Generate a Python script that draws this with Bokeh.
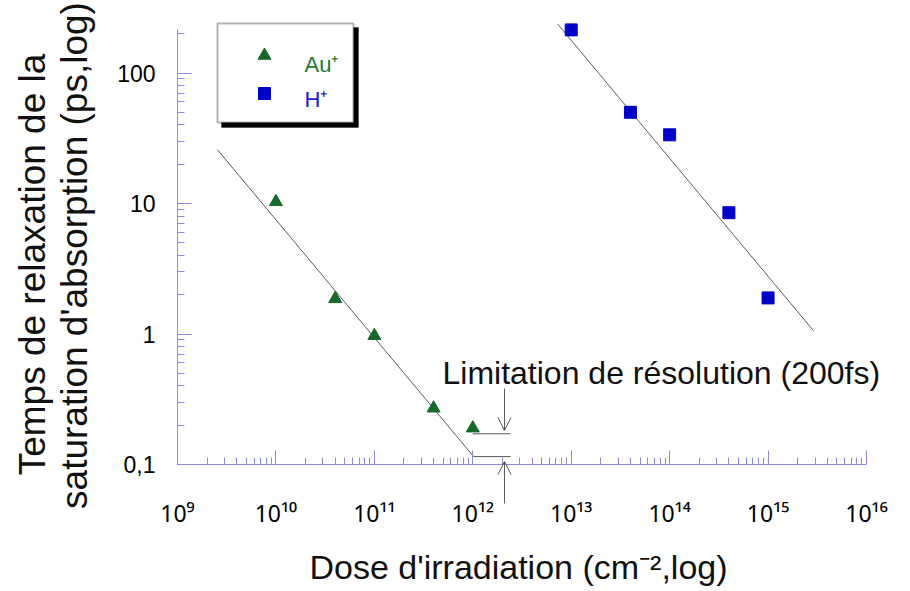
import math
from bokeh.plotting import figure
from bokeh.models import (Range1d, FixedTicker, CustomJSTickFormatter, Label,
                          Arrow, OpenHead, BoxAnnotation)
from bokeh.embed import file_html
from bokeh.resources import INLINE

# ---------------- data ----------------
au_dose = [1e10, 4e10, 1e11, 4e11, 1e12]
au_tau = [10.3, 1.86, 0.97, 0.27, 0.19]
h_dose = [1e13, 4e13, 1e14, 4e14, 1e15]
h_tau = [214, 50, 33.6, 8.5, 1.89]
au_fit_dose = [2.55e9, 1.02e12, 2.42e12]
au_fit_tau = [25.8, 0.115, 0.115]
h_fit_dose = [7.26e12, 2.89e15]
h_fit_tau = [238, 1.06]
limit_dose = [1.0e12, 2.42e12]
limit_tau = [0.172, 0.172]
x_ticks = [1e9, 1e10, 1e11, 1e12, 1e13, 1e14, 1e15, 1e16]
y_ticks = [0.1, 1, 10, 100]
x_minor = [m * 10.0 ** k for k in range(9, 16) for m in range(2, 10)]
y_minor = [m * 10.0 ** k for k in range(-1, 2) for m in range(2, 10)] + [200]

# ---------------- layout constants (pixel -> data helpers) ----------------
W, H = 910, 591
AX_LEFT, AX_RIGHT, AX_BOTTOM = 177, 866, 464     # pixel positions of 1e9, 1e16, 0.1
DEC_X = (AX_RIGHT - AX_LEFT) / 7.0
DEC_Y = 130.5


def xd(px):
    return 10 ** (9 + (px - AX_LEFT) / DEC_X)


def yd(py):
    return 10 ** (-1 + (AX_BOTTOM - py) / DEC_Y)


FONT = "Liberation Sans"
AXIS_COL = "#8a8ae0"
GREEN = "#17692b"
BLUE = "#0000c8"
LINE_COL = "#5a5a5a"
TXT = "#111111"

p = figure(width=W, height=H, x_axis_type="log", y_axis_type="log",
           x_range=Range1d(xd(0), xd(W)), y_range=Range1d(yd(H), yd(0)),
           output_backend="svg", toolbar_location=None,
           min_border=0, min_border_left=0, min_border_right=0,
           min_border_top=0, min_border_bottom=0)
p.outline_line_color = None
p.xgrid.visible = False
p.ygrid.visible = False
p.background_fill_color = "white"
p.border_fill_color = "white"

# axes: fixed inside the (full-canvas) frame
p.xaxis.fixed_location = y_ticks[0]
p.yaxis.fixed_location = x_ticks[0]
p.xaxis.bounds = (x_ticks[0], x_ticks[-1])
p.yaxis.bounds = (y_ticks[0], yd(29))
p.xaxis.ticker = FixedTicker(ticks=x_ticks, minor_ticks=x_minor)
p.yaxis.ticker = FixedTicker(ticks=y_ticks, minor_ticks=y_minor)
p.xaxis.formatter = CustomJSTickFormatter(code="""
const s = {"0":"\u2070","1":"\u00b9","2":"\u00b2","3":"\u00b3","4":"\u2074","5":"\u2075",
           "6":"\u2076","7":"\u2077","8":"\u2078","9":"\u2079","-":"\u207b"};
const e = Math.round(Math.log10(tick));
return "10" + String(e).split("").map(c => s[c]).join("");
""")
p.yaxis.formatter = CustomJSTickFormatter(code="""
if (tick < 1) { return tick.toFixed(1).replace(".", ","); }
return tick.toFixed(0);
""")
for ax in (p.xaxis, p.yaxis):
    ax.axis_line_color = AXIS_COL
    ax.major_tick_line_color = AXIS_COL
    ax.minor_tick_line_color = AXIS_COL
    ax.major_tick_in = 14
    ax.major_tick_out = 0
    ax.minor_tick_in = 7
    ax.minor_tick_out = 0
    ax.major_label_text_color = "black"
p.xaxis.major_label_text_font = "Noto Sans"
p.xaxis.major_label_text_font_size = "23px"
p.yaxis.major_label_text_font = FONT
p.yaxis.major_label_text_font_size = "23px"
p.xaxis.major_label_standoff = 32
p.yaxis.major_label_standoff = 22

# legend box (underlay so the symbols sit on top)
p.add_layout(BoxAnnotation(left=xd(221), right=xd(358), top=yd(27), bottom=yd(127),
                           fill_color="black", fill_alpha=1, line_color="black",
                           level="underlay"))
p.add_layout(BoxAnnotation(left=xd(217), right=xd(353), top=yd(23), bottom=yd(122),
                           fill_color="white", fill_alpha=1, line_color="black",
                           line_width=2, level="underlay"))

# fit lines
p.line(au_fit_dose, au_fit_tau, line_color=LINE_COL, line_width=1)
p.line(h_fit_dose, h_fit_tau, line_color=LINE_COL, line_width=1)
p.line(limit_dose, limit_tau, line_color=LINE_COL, line_width=1)

# data points
p.scatter(au_dose, au_tau, marker="triangle", size=13, fill_color=GREEN, line_color=GREEN)
p.scatter(h_dose, h_tau, marker="square", size=12, fill_color=BLUE, line_color=BLUE)

# legend symbols & texts
p.scatter([xd(264)], [yd(55)], marker="triangle", size=13, fill_color=GREEN, line_color=GREEN)
p.scatter([xd(264)], [yd(93)], marker="square", size=12, fill_color=BLUE, line_color=BLUE)
p.add_layout(Label(x=xd(304), y=yd(64), text="Au\u207a", text_font=FONT, text_font_size="22px",
                   text_color="#1f7a33", text_baseline="middle"))
p.add_layout(Label(x=xd(304), y=yd(99), text="H\u207a", text_font=FONT, text_font_size="22px",
                   text_color="#1a1ad0", text_baseline="middle"))

# resolution limit annotation
p.add_layout(Label(x=xd(442), y=yd(372), text="Limitation de r\u00e9solution (200fs)",
                   text_font=FONT, text_font_size="32px", text_color=TXT,
                   text_baseline="middle"))
p.add_layout(Arrow(end=OpenHead(size=13, line_color=LINE_COL, line_width=1),
                   x_start=xd(504), y_start=yd(388), x_end=xd(504), y_end=yd(430),
                   line_color=LINE_COL, line_width=1))
p.add_layout(Arrow(end=OpenHead(size=13, line_color=LINE_COL, line_width=1),
                   x_start=xd(504), y_start=yd(503), x_end=xd(504), y_end=yd(461),
                   line_color=LINE_COL, line_width=1))

# axis titles
p.add_layout(Label(x=xd(518), y=yd(566), text="Dose d'irradiation (cm\u207b\u00b2,log)",
                   text_font=FONT, text_font_size="34px", text_color=TXT,
                   text_align="center", text_baseline="middle"))
p.add_layout(Label(x=xd(32), y=yd(264), text="Temps de relaxation de la",
                   angle=math.pi / 2, text_font=FONT, text_font_size="37px",
                   text_color=TXT, text_align="center", text_baseline="middle"))
p.add_layout(Label(x=xd(74), y=yd(255), text="saturation d'absorption (ps,log)",
                   angle=math.pi / 2, text_font=FONT, text_font_size="37px",
                   text_color=TXT, text_align="center", text_baseline="middle"))

open("out.html", "w").write(file_html(p, INLINE))
